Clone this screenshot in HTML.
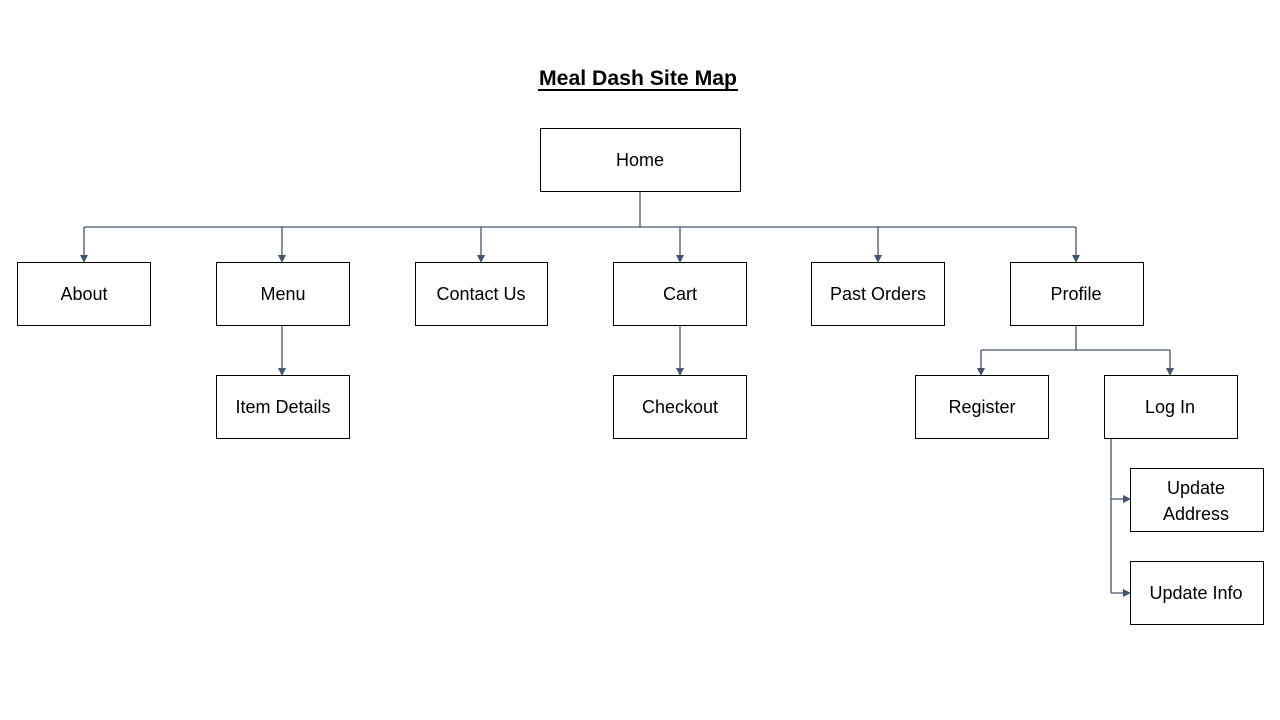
<!DOCTYPE html>
<html><head><meta charset="utf-8"><style>
html,body{margin:0;padding:0;background:#fff;width:1280px;height:720px;overflow:hidden}
text{font-family:"Liberation Sans","DejaVu Sans",sans-serif;font-size:18px;fill:#000}
</style></head><body>
<svg width="1280" height="720" xmlns="http://www.w3.org/2000/svg">
<defs><marker id="a" markerWidth="8" markerHeight="8" refX="7" refY="4" orient="auto" markerUnits="userSpaceOnUse"><path d="M0,0 L8,4 L0,8 z" fill="#44546A"/></marker></defs>
<text x="638" y="85" text-anchor="middle" textLength="198" lengthAdjust="spacingAndGlyphs" style="font-weight:bold;font-size:21px">Meal Dash Site Map</text>
<line x1="538" y1="90" x2="738" y2="90" stroke="#000" stroke-width="2"/>
<g stroke="#44546A" stroke-width="1.3" fill="none">
<line x1="640" y1="191" x2="640" y2="227"/>
<line x1="84" y1="227" x2="1076" y2="227"/>
<line x1="84" y1="227" x2="84" y2="262" marker-end="url(#a)"/>
<line x1="282" y1="227" x2="282" y2="262" marker-end="url(#a)"/>
<line x1="481" y1="227" x2="481" y2="262" marker-end="url(#a)"/>
<line x1="680" y1="227" x2="680" y2="262" marker-end="url(#a)"/>
<line x1="878" y1="227" x2="878" y2="262" marker-end="url(#a)"/>
<line x1="1076" y1="227" x2="1076" y2="262" marker-end="url(#a)"/>
<line x1="282" y1="325" x2="282" y2="375" marker-end="url(#a)"/>
<line x1="680" y1="325" x2="680" y2="375" marker-end="url(#a)"/>
<line x1="1076" y1="325" x2="1076" y2="350"/>
<line x1="981" y1="350" x2="1170" y2="350"/>
<line x1="981" y1="350" x2="981" y2="375" marker-end="url(#a)"/>
<line x1="1170" y1="350" x2="1170" y2="375" marker-end="url(#a)"/>
<line x1="1111" y1="438" x2="1111" y2="593"/>
<line x1="1111" y1="499" x2="1130" y2="499" marker-end="url(#a)"/>
<line x1="1111" y1="593" x2="1130" y2="593" marker-end="url(#a)"/>
</g>
<g fill="#fff" stroke="#000" stroke-width="1">
<rect x="540.5" y="128.5" width="200" height="63"/>
<rect x="17.5" y="262.5" width="133" height="63"/>
<rect x="216.5" y="262.5" width="133" height="63"/>
<rect x="415.5" y="262.5" width="132" height="63"/>
<rect x="613.5" y="262.5" width="133" height="63"/>
<rect x="811.5" y="262.5" width="133" height="63"/>
<rect x="1010.5" y="262.5" width="133" height="63"/>
<rect x="216.5" y="375.5" width="133" height="63"/>
<rect x="613.5" y="375.5" width="133" height="63"/>
<rect x="915.5" y="375.5" width="133" height="63"/>
<rect x="1104.5" y="375.5" width="133" height="63"/>
<rect x="1130.5" y="468.5" width="133" height="63"/>
<rect x="1130.5" y="561.5" width="133" height="63"/>
</g>
<g text-anchor="middle">
<text x="640" y="166">Home</text>
<text x="84" y="300">About</text>
<text x="283" y="300">Menu</text>
<text x="481" y="300">Contact Us</text>
<text x="680" y="300">Cart</text>
<text x="878" y="300">Past Orders</text>
<text x="1076" y="300">Profile</text>
<text x="283" y="413">Item Details</text>
<text x="680" y="413">Checkout</text>
<text x="982" y="413">Register</text>
<text x="1170" y="413">Log In</text>
<text x="1196" y="494">Update</text>
<text x="1196" y="520">Address</text>
<text x="1196" y="599">Update Info</text>
</g>
</svg>
</body></html>
